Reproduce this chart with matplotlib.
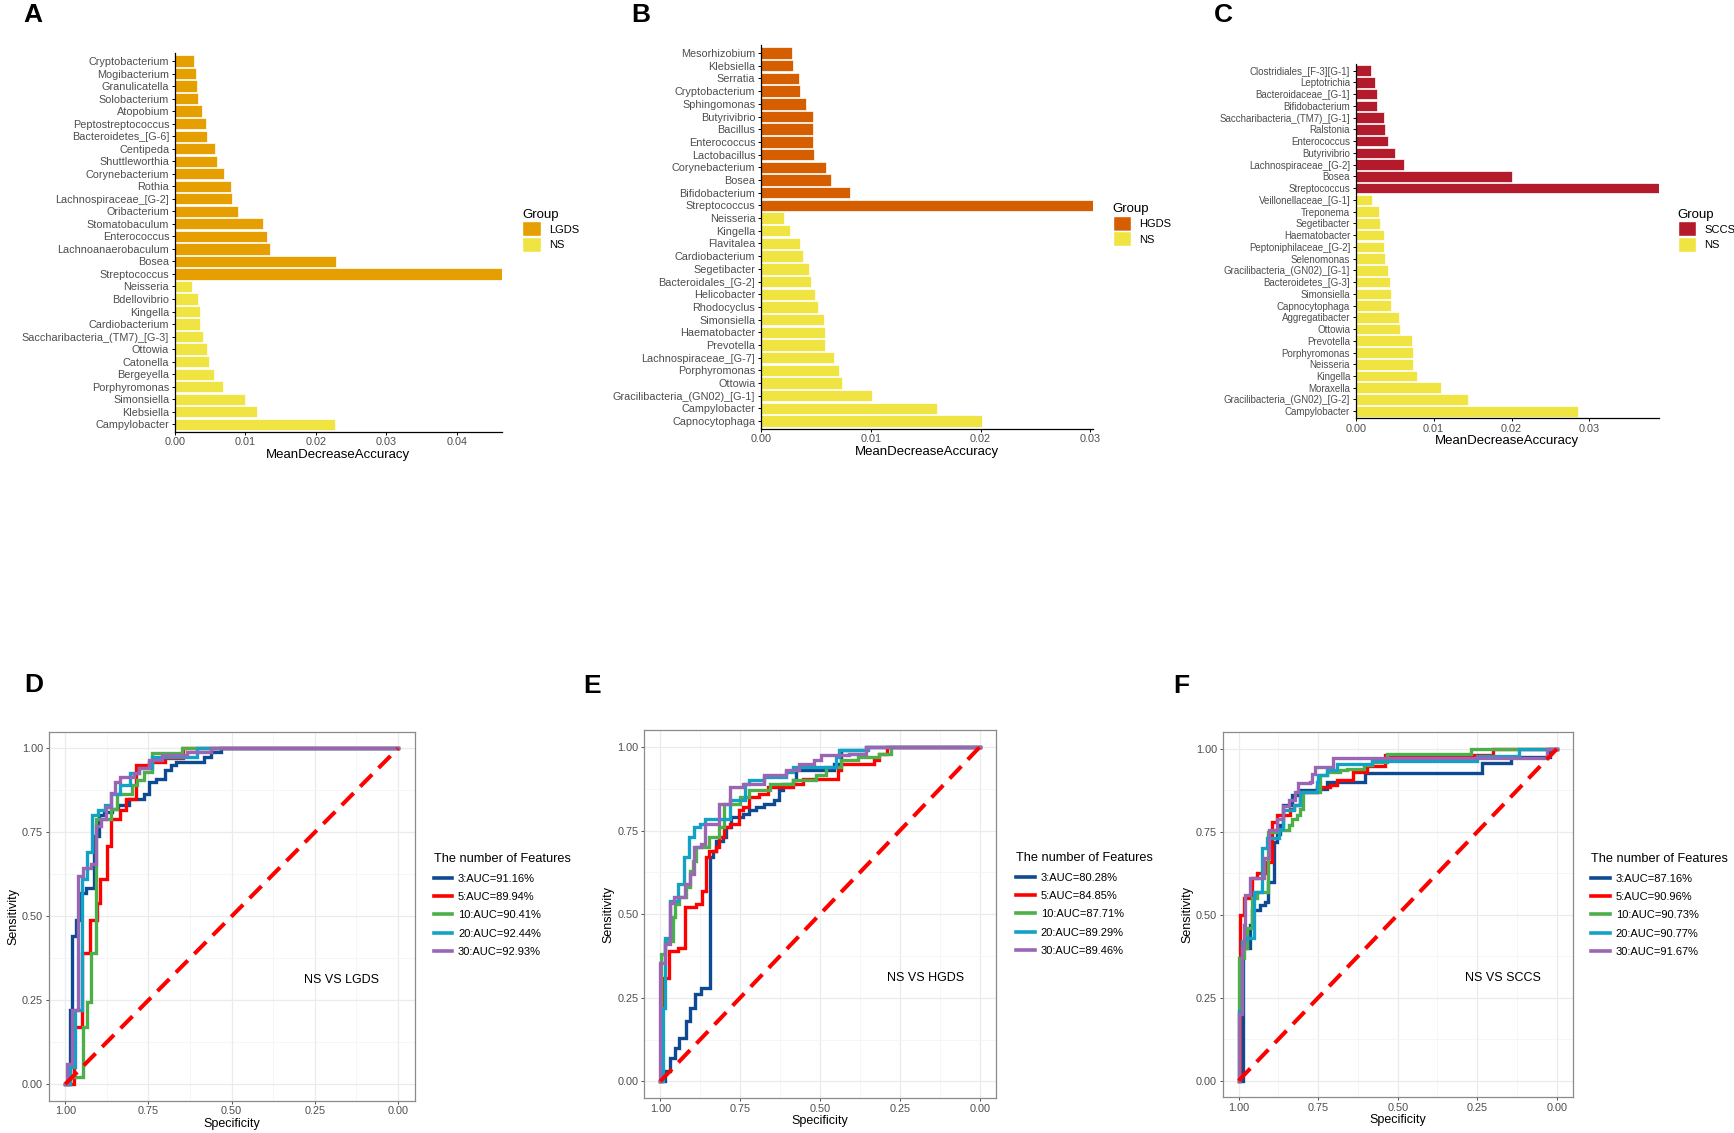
"""Random-forest importance bars (A-C) and ROC curves by feature count (D-F)."""

import matplotlib

matplotlib.use("Agg")
import matplotlib.pyplot as plt
from matplotlib import font_manager
from matplotlib.lines import Line2D
from matplotlib.patches import Patch
from matplotlib.ticker import MultipleLocator

plt.rcParams["font.family"] = ["Liberation Sans", "DejaVu Sans"]

_names = {f.name for f in font_manager.fontManager.ttflist}
NARROW = "Liberation Sans Narrow" if "Liberation Sans Narrow" in _names else "Liberation Sans"

# ---------------- panel A: NS vs LGDS ----------------
a_taxa = ["Cryptobacterium", "Mogibacterium", "Granulicatella", "Solobacterium", "Atopobium",
          "Peptostreptococcus", "Bacteroidetes_[G-6]", "Centipeda", "Shuttleworthia",
          "Corynebacterium", "Rothia", "Lachnospiraceae_[G-2]", "Oribacterium", "Stomatobaculum",
          "Enterococcus", "Lachnoanaerobaculum", "Bosea", "Streptococcus", "Neisseria",
          "Bdellovibrio", "Kingella", "Cardiobacterium", "Saccharibacteria_(TM7)_[G-3]", "Ottowia",
          "Catonella", "Bergeyella", "Porphyromonas", "Simonsiella", "Klebsiella", "Campylobacter"]
a_values = [0.00273, 0.00303, 0.00322, 0.00332, 0.00381, 0.00439, 0.00459, 0.00571, 0.00601,
            0.00703, 0.00801, 0.00806, 0.00894, 0.01245, 0.01313, 0.01348, 0.0228, 0.0464,
            0.00244, 0.00332, 0.00356, 0.00361, 0.0040, 0.00459, 0.00479, 0.00557, 0.00684,
            0.00996, 0.01162, 0.02275]
a_groups = ["LGDS"] * 18 + ["NS"] * 12

# ---------------- panel B: NS vs HGDS ----------------
b_taxa = ["Mesorhizobium", "Klebsiella", "Serratia", "Cryptobacterium", "Sphingomonas",
          "Butyrivibrio", "Bacillus", "Enterococcus", "Lactobacillus", "Corynebacterium", "Bosea",
          "Bifidobacterium", "Streptococcus", "Neisseria", "Kingella", "Flavitalea",
          "Cardiobacterium", "Segetibacter", "Bacteroidales_[G-2]", "Helicobacter", "Rhodocyclus",
          "Simonsiella", "Haematobacter", "Prevotella", "Lachnospiraceae_[G-7]", "Porphyromonas",
          "Ottowia", "Gracilibacteria_(GN02)_[G-1]", "Campylobacter", "Capnocytophaga"]
b_values = [0.00282, 0.00292, 0.00347, 0.00354, 0.00415, 0.00471, 0.00477, 0.00477, 0.00487,
            0.00597, 0.00643, 0.00808, 0.0302, 0.00211, 0.00269, 0.00354, 0.00386, 0.00438,
            0.00461, 0.00493, 0.00519, 0.00574, 0.00581, 0.00584, 0.00669, 0.00714, 0.00743,
            0.0101, 0.0160, 0.0201]
b_groups = ["HGDS"] * 13 + ["NS"] * 17

# ---------------- panel C: NS vs SCCS ----------------
c_taxa = ["Clostridiales_[F-3][G-1]", "Leptotrichia", "Bacteroidaceae_[G-1]", "Bifidobacterium",
          "Saccharibacteria_(TM7)_[G-1]", "Ralstonia", "Enterococcus", "Butyrivibrio",
          "Lachnospiraceae_[G-2]", "Bosea", "Streptococcus", "Veillonellaceae_[G-1]", "Treponema",
          "Segetibacter", "Haematobacter", "Peptoniphilaceae_[G-2]", "Selenomonas",
          "Gracilibacteria_(GN02)_[G-1]", "Bacteroidetes_[G-3]", "Simonsiella", "Capnocytophaga",
          "Aggregatibacter", "Ottowia", "Prevotella", "Porphyromonas", "Neisseria", "Kingella",
          "Moraxella", "Gracilibacteria_(GN02)_[G-2]", "Campylobacter"]
c_values = [0.00193, 0.00251, 0.00267, 0.00278, 0.00358, 0.00369, 0.00412, 0.00497, 0.0062,
            0.02005, 0.0389, 0.00209, 0.00294, 0.00305, 0.00364, 0.00364, 0.00369, 0.00412,
            0.00433, 0.00449, 0.00455, 0.00561, 0.00567, 0.00717, 0.00738, 0.00738, 0.00781,
            0.01096, 0.01444, 0.0285]
c_groups = ["SCCS"] * 11 + ["NS"] * 19

group_colors = {"LGDS": "#E69F00", "HGDS": "#D55E00", "SCCS": "#B31B2C", "NS": "#F0E442"}

# ---------------- ROC curves: (specificity, sensitivity) step corners ----------------
n_features = [3, 5, 10, 20, 30]
d_auc = [91.16, 89.94, 90.41, 92.44, 92.93]
e_auc = [80.28, 84.85, 87.71, 89.29, 89.46]
f_auc = [87.16, 90.96, 90.73, 90.77, 91.67]

d3 = [(1.0, 0.0), (0.985, 0.22), (0.98, 0.44), (0.967, 0.49), (0.953, 0.57), (0.937, 0.585),
      (0.913, 0.74), (0.898, 0.80), (0.883, 0.81), (0.86, 0.82), (0.841, 0.83), (0.808, 0.85),
      (0.764, 0.865), (0.747, 0.90), (0.728, 0.91), (0.699, 0.935), (0.682, 0.95), (0.666, 0.96),
      (0.584, 0.975), (0.561, 0.99), (0.532, 1.0), (0.0, 1.0)]
d5 = [(1.0, 0.0), (0.975, 0.17), (0.95, 0.39), (0.926, 0.49), (0.905, 0.54), (0.895, 0.61),
      (0.875, 0.71), (0.862, 0.79), (0.836, 0.815), (0.818, 0.85), (0.788, 0.95), (0.749, 0.96),
      (0.70, 0.97), (0.646, 1.0), (0.0, 1.0)]
d10 = [(1.0, 0.0), (0.99, 0.02), (0.948, 0.17), (0.936, 0.245), (0.922, 0.39), (0.908, 0.79),
       (0.864, 0.82), (0.845, 0.865), (0.80, 0.89), (0.785, 0.905), (0.764, 0.93), (0.738, 0.985),
       (0.65, 1.0), (0.0, 1.0)]
d20 = [(1.0, 0.0), (0.985, 0.05), (0.97, 0.22), (0.95, 0.61), (0.934, 0.69), (0.919, 0.80),
       (0.903, 0.815), (0.88, 0.83), (0.864, 0.865), (0.836, 0.89), (0.805, 0.925), (0.78, 0.94),
       (0.738, 0.975), (0.605, 1.0), (0.0, 1.0)]
d30 = [(1.0, 0.0), (0.995, 0.06), (0.98, 0.22), (0.963, 0.62), (0.947, 0.645), (0.922, 0.655),
       (0.908, 0.77), (0.893, 0.79), (0.877, 0.825), (0.864, 0.867), (0.85, 0.90), (0.836, 0.915),
       (0.795, 0.925), (0.78, 0.94), (0.749, 0.965), (0.708, 0.98), (0.635, 0.99), (0.563, 1.0),
       (0.0, 1.0)]

e3 = [(1.0, 0.0), (0.985, 0.03), (0.97, 0.07), (0.955, 0.10), (0.94, 0.13), (0.921, 0.18),
      (0.906, 0.22), (0.891, 0.26), (0.874, 0.28), (0.843, 0.67), (0.835, 0.69), (0.825, 0.72),
      (0.804, 0.73), (0.794, 0.76), (0.778, 0.79), (0.742, 0.80), (0.721, 0.81), (0.70, 0.82),
      (0.674, 0.83), (0.643, 0.84), (0.627, 0.87), (0.617, 0.89), (0.585, 0.90), (0.575, 0.93),
      (0.455, 0.95), (0.434, 0.99), (0.356, 1.0), (0.0, 1.0)]
e5 = [(1.0, 0.0), (0.994, 0.31), (0.972, 0.39), (0.944, 0.40), (0.924, 0.52), (0.887, 0.53),
      (0.870, 0.57), (0.858, 0.67), (0.846, 0.69), (0.825, 0.70), (0.815, 0.73), (0.802, 0.76),
      (0.783, 0.77), (0.754, 0.81), (0.742, 0.82), (0.721, 0.85), (0.69, 0.86), (0.664, 0.88),
      (0.585, 0.89), (0.554, 0.905), (0.445, 0.93), (0.434, 0.95), (0.33, 0.96), (0.315, 0.98),
      (0.289, 1.0), (0.0, 1.0)]
e10 = [(1.0, 0.0), (0.997, 0.38), (0.986, 0.42), (0.96, 0.49), (0.955, 0.53), (0.94, 0.55),
       (0.919, 0.58), (0.908, 0.63), (0.898, 0.66), (0.888, 0.70), (0.846, 0.73), (0.815, 0.76),
       (0.799, 0.83), (0.752, 0.85), (0.721, 0.87), (0.658, 0.89), (0.585, 0.90), (0.512, 0.915),
       (0.481, 0.94), (0.434, 0.96), (0.382, 0.97), (0.315, 0.98), (0.278, 1.0), (0.0, 1.0)]
e20 = [(1.0, 0.0), (0.99, 0.22), (0.986, 0.43), (0.971, 0.54), (0.945, 0.59), (0.927, 0.67),
       (0.91, 0.73), (0.893, 0.76), (0.877, 0.77), (0.861, 0.785), (0.783, 0.84), (0.736, 0.89),
       (0.721, 0.90), (0.674, 0.91), (0.606, 0.925), (0.585, 0.94), (0.45, 0.97), (0.44, 0.99),
       (0.351, 1.0), (0.0, 1.0)]
e30 = [(1.0, 0.0), (1.0, 0.355), (0.986, 0.41), (0.971, 0.534), (0.958, 0.55), (0.924, 0.59),
       (0.908, 0.62), (0.893, 0.70), (0.872, 0.71), (0.861, 0.77), (0.815, 0.83), (0.783, 0.88),
       (0.742, 0.89), (0.674, 0.915), (0.606, 0.93), (0.565, 0.95), (0.518, 0.96), (0.497, 0.975),
       (0.408, 0.98), (0.356, 1.0), (0.0, 1.0)]

f3 = [(1.0, 0.0), (0.985, 0.40), (0.965, 0.47), (0.958, 0.515), (0.932, 0.53), (0.916, 0.54),
      (0.906, 0.60), (0.89, 0.72), (0.88, 0.745), (0.869, 0.77), (0.859, 0.83), (0.832, 0.86),
      (0.806, 0.875), (0.754, 0.88), (0.723, 0.90), (0.602, 0.928), (0.234, 0.957),
      (0.145, 0.975), (0.02, 1.0), (0.0, 1.0)]
f5 = [(1.0, 0.0), (0.995, 0.50), (0.984, 0.55), (0.958, 0.61), (0.942, 0.625), (0.916, 0.66),
      (0.895, 0.78), (0.88, 0.80), (0.838, 0.82), (0.827, 0.83), (0.806, 0.87), (0.754, 0.885),
      (0.712, 0.89), (0.691, 0.905), (0.639, 0.93), (0.597, 0.948), (0.539, 0.983), (0.2, 1.0),
      (0.0, 1.0)]
f10 = [(1.0, 0.0), (1.0, 0.37), (0.984, 0.40), (0.974, 0.46), (0.958, 0.55), (0.942, 0.57),
       (0.906, 0.75), (0.88, 0.755), (0.843, 0.77), (0.832, 0.79), (0.817, 0.80), (0.806, 0.82),
       (0.796, 0.87), (0.743, 0.92), (0.723, 0.93), (0.681, 0.936), (0.66, 0.94), (0.607, 0.95),
       (0.581, 0.96), (0.534, 0.985), (0.27, 1.0), (0.0, 1.0)]
f20 = [(1.0, 0.0), (1.0, 0.21), (0.99, 0.42), (0.979, 0.43), (0.953, 0.57), (0.927, 0.70),
       (0.911, 0.73), (0.874, 0.76), (0.859, 0.817), (0.827, 0.83), (0.806, 0.87), (0.754, 0.90),
       (0.749, 0.92), (0.723, 0.935), (0.691, 0.955), (0.581, 0.965), (0.25, 0.98), (0.12, 1.0),
       (0.0, 1.0)]
f30 = [(1.0, 0.0), (1.0, 0.20), (0.99, 0.40), (0.984, 0.47), (0.979, 0.56), (0.963, 0.61),
       (0.921, 0.67), (0.903, 0.757), (0.88, 0.79), (0.859, 0.827), (0.843, 0.845), (0.822, 0.87),
       (0.812, 0.898), (0.775, 0.90), (0.770, 0.923), (0.759, 0.945), (0.702, 0.973),
       (0.03, 1.0), (0.0, 1.0)]

roc_colors = ["#0D4A92", "#FF0000", "#4DAF4A", "#12A2C6", "#9A66B4"]

# layout was measured on a 1568 x 1025 copy of the reference
W, H = 1568.0, 1025.0
GREY_TXT = "#4D4D4D"


def rect(left, top, right, bottom):
    return [left / W, 1 - bottom / H, (right - left) / W, (bottom - top) / H]


def bar_panel(fig, box, taxa, values, groups, legend_xy, label_font, label_size):
    ax = fig.add_axes(rect(*box))
    n = len(taxa)
    ypos = list(range(n - 1, -1, -1))
    ax.barh(ypos, values, height=0.9, color=[group_colors[g] for g in groups],
            edgecolor="white", linewidth=0.5)
    ax.set_ylim(-0.6, n - 0.4)
    ax.set_xlim(0, max(values))
    ax.set_yticks(ypos)
    ax.set_yticklabels(taxa, fontsize=label_size, color=GREY_TXT, family=label_font)
    ticks = [t / 100 for t in range(0, int(max(values) * 100) + 1)]
    ax.set_xticks(ticks)
    ax.set_xticklabels([f"{t:.2f}" for t in ticks], fontsize=7.8, color=GREY_TXT)
    for side in ("top", "right"):
        ax.spines[side].set_visible(False)
    for side in ("left", "bottom"):
        ax.spines[side].set_linewidth(0.9)
    ax.tick_params(length=2.5, width=0.7, pad=1.5)
    ax.set_xlabel("MeanDecreaseAccuracy", fontsize=9.5, labelpad=1)

    order = [g for g in dict.fromkeys(groups)]
    handles = [Patch(facecolor=group_colors[g], edgecolor="white") for g in order]
    fig.legend(handles, order, title="Group", loc="upper left",
               bbox_to_anchor=(legend_xy[0] / W, 1 - legend_xy[1] / H), frameon=False,
               fontsize=8, title_fontsize=9.5, handlelength=1.7, handleheight=1.7,
               labelspacing=0.05, handletextpad=0.7, borderpad=0, borderaxespad=0,
               alignment="left")
    return ax


def roc_panel(fig, box, curves, aucs, tag, legend_xy):
    ax = fig.add_axes(rect(*box))
    for pts, col in zip(curves, roc_colors):
        ax.plot([p[0] for p in pts], [p[1] for p in pts], drawstyle="steps-post",
                color=col, lw=2.4, solid_joinstyle="miter")
    ax.plot([1, 0], [0, 1], color="#FF0000", lw=2.9, ls=(0, (4.2, 2.3)))
    ax.set_xlim(1.05, -0.05)
    ax.set_ylim(-0.05, 1.05)
    ticks = [0, 0.25, 0.5, 0.75, 1.0]
    ax.set_xticks(ticks)
    ax.set_yticks(ticks)
    ax.set_xticklabels([f"{t:.2f}" for t in ticks], fontsize=7.8, color=GREY_TXT)
    ax.set_yticklabels([f"{t:.2f}" for t in ticks], fontsize=7.8, color=GREY_TXT)
    ax.xaxis.set_minor_locator(MultipleLocator(0.125))
    ax.yaxis.set_minor_locator(MultipleLocator(0.125))
    ax.grid(True, which="major", color="#EBEBEB", lw=0.9)
    ax.grid(True, which="minor", color="#F3F3F3", lw=0.5)
    ax.set_axisbelow(True)
    ax.tick_params(which="major", length=2.5, width=0.6, color="#333333", pad=1.5)
    ax.tick_params(which="minor", length=0)
    for sp in ax.spines.values():
        sp.set_color("#8A8A8A")
        sp.set_linewidth(0.9)
    ax.set_xlabel("Specificity", fontsize=9, labelpad=1)
    ax.set_ylabel("Sensitivity", fontsize=9, labelpad=2)
    ax.text(0.17, 0.31, tag, ha="center", va="center", fontsize=9)

    handles = [Line2D([], [], color=c, lw=2.6) for c in roc_colors]
    labels = [f"{n}:AUC={a:.2f}%" for n, a in zip(n_features, aucs)]
    fig.legend(handles, labels, title="The number of Features", loc="upper left",
               bbox_to_anchor=(legend_xy[0] / W, 1 - legend_xy[1] / H), frameon=False,
               fontsize=8, title_fontsize=9.2, handlelength=1.7, labelspacing=0.75,
               handletextpad=0.5, borderpad=0, borderaxespad=0, alignment="left")
    return ax


def main() -> None:
    fig = plt.figure(figsize=(17.34, 11.33), dpi=100)

    bar_panel(fig, (158, 48.4, 454, 390.6), a_taxa, a_values, a_groups, (472, 189),
              "Liberation Sans", 7.8)
    bar_panel(fig, (688, 41.1, 988, 387.9), b_taxa, b_values, b_groups, (1006, 184),
              "Liberation Sans", 7.8)
    c_size = 8 if NARROW != "Liberation Sans" else 7.0
    bar_panel(fig, (1226, 57.6, 1500, 378.4), c_taxa, c_values, c_groups, (1517, 189),
              NARROW, c_size)

    roc_panel(fig, (44, 661.8, 375, 995.9), [d3, d5, d10, d20, d30], d_auc, "NS VS LGDS",
              (392, 772))
    roc_panel(fig, (582.6, 660.6, 900.5, 993.4), [e3, e5, e10, e20, e30], e_auc, "NS VS HGDS",
              (919, 771))
    roc_panel(fig, (1105.6, 662.5, 1422.2, 992.7), [f3, f5, f10, f20, f30], f_auc, "NS VS SCCS",
              (1439, 772))

    for letter, (x, y) in {"A": (29.6, 13.6), "B": (579, 13.6), "C": (1106.6, 13.6),
                           "D": (30.2, 620), "E": (535, 620.8), "F": (1068, 621)}.items():
        fig.text(x / W, 1 - y / H, letter, fontsize=19, fontweight="bold",
                 ha="center", va="center")

    fig.savefig("out.png", dpi=100)


if __name__ == "__main__":
    main()
